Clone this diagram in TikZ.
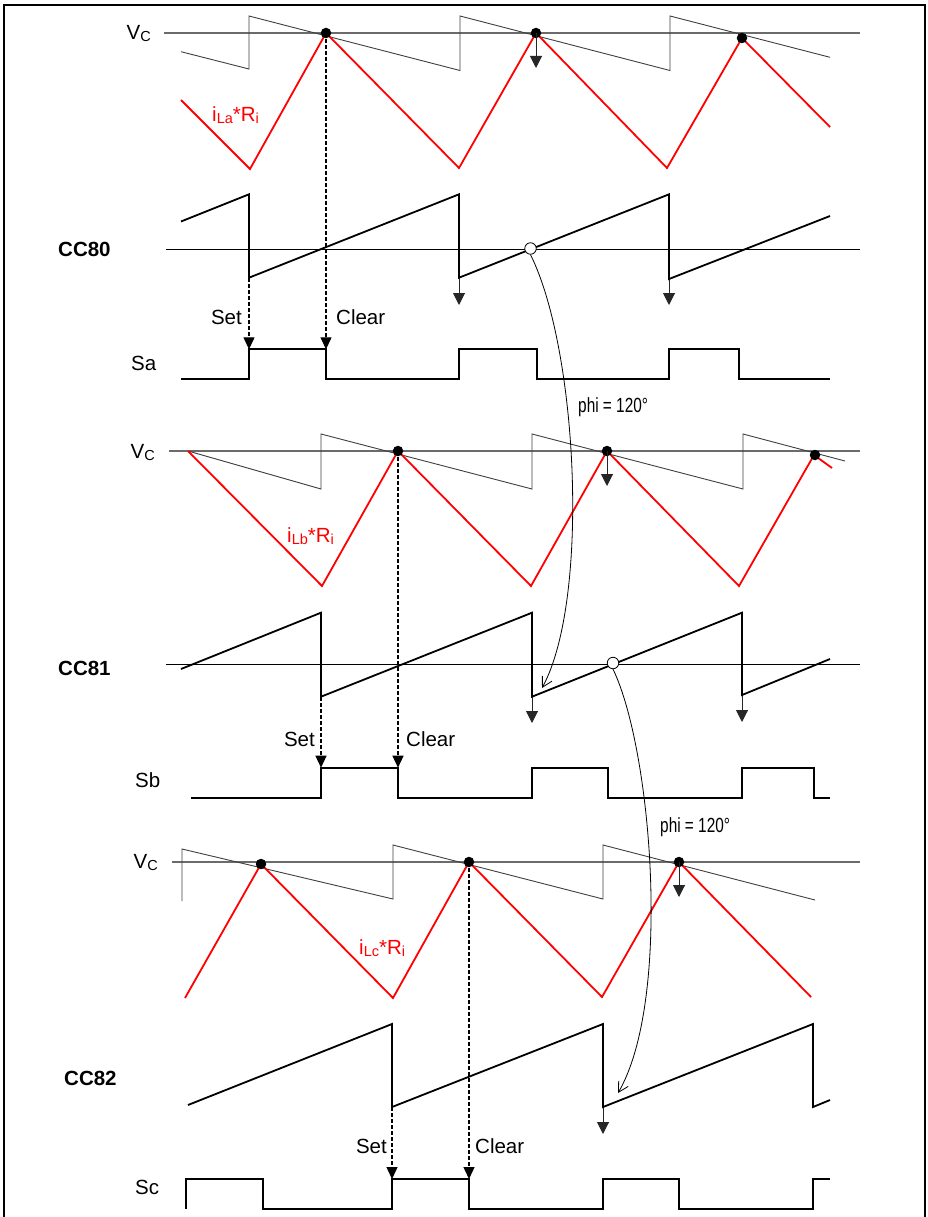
\documentclass[tikz,border=0pt]{standalone}
\usepackage{fontspec}
\setmainfont{Liberation Sans}
\newfontfamily\narrowfont[FakeStretch=0.75]{Liberation Sans}
\usetikzlibrary{arrows.meta}
\newcommand{\lsub}[1]{\raisebox{-2pt}{\fontsize{14.5}{15}\selectfont #1}}
\tikzset{
  wave/.style={line width=1.8pt, black, line join=miter},
  redwave/.style={line width=1.8pt, red},
  ramp/.style={line width=0.9pt, black!75},
  vcline/.style={line width=1.4pt, black!58},
  zeroline/.style={line width=1pt, black},
  tri/.style={-{Triangle[length=12pt,width=12pt]}, line width=1pt, black!85},
  dasharrow/.style={dash pattern=on 4pt off 2pt, line width=1.3pt, -{Triangle[length=12pt,width=11pt]}},
  phase/.style={line width=0.8pt, -{Straight Barb[length=10pt,width=11pt]}},
  dot/.style={circle, fill=black, inner sep=0pt, minimum size=10.5pt},
  hollow/.style={circle, draw=black, line width=0.8pt, fill=white, inner sep=0pt, minimum size=11.5pt},
  lbl/.style={inner sep=0pt, font=\fontsize{20.5}{24}\selectfont},
  cclbl/.style={inner sep=0pt, font=\fontsize{20.5}{24}\selectfont\bfseries},
  redlbl/.style={inner sep=0pt, text=red, font=\fontsize{20.5}{24}\selectfont},
  philbl/.style={inner sep=0pt, font=\fontsize{20.5}{24}\narrowfont},
}
\begin{document}
\begin{tikzpicture}[x=1pt,y=-1pt]
\useasboundingbox (0,0) rectangle (927,1217);
\fill[white] (0,0) rectangle (927,1217);
\draw[line width=1.3pt] (4,1217) -- (4,5) -- (925,5) -- (925,1217);

% ---------- coordinates ----------
\coordinate (setA) at (249,349.3);
\coordinate (clrA) at (326,349.3);
\coordinate (botA) at (249,277.7);
\coordinate (setB) at (321,767.7);
\coordinate (clrB) at (398,767.7);
\coordinate (botB) at (321,696.7);
\coordinate (setC) at (392,1179);
\coordinate (clrC) at (469,1179);
\coordinate (botC) at (392,1107);
\coordinate (tipB) at (542,688);
\coordinate (tipC) at (618,1093);

% ---------- dashed set / clear arrows ----------
\draw[dasharrow] (botA) -- (setA);
\draw[dasharrow] (326,33) -- (clrA);
\draw[dasharrow] (botB) -- (setB);
\draw[dasharrow] (398,451) -- (clrB);
\draw[dasharrow] (botC) -- (setC);
\draw[dasharrow] (469,862) -- (clrC);

% ================= Section A =================
\draw[vcline] (164,33) -- (860,33);
\draw[ramp] (181,51.7) -- (249,69) -- (249,16) -- (460,70.5) -- (460,16) -- (670,70.5) -- (670,16) -- (830,57.3);
\draw[redwave] (181,100) -- (250,169) -- (326,33) -- (459,168) -- (536,33) -- (667,168) -- (742,38) -- (830,127);
\node[dot] (pA1) at (326,33) {};
\node[dot] (pA2) at (536,33) {};
\node[dot] (pA3) at (742,38) {};
\draw[tri] (pA2.center) -- ++(0,35);
\node[lbl, anchor=base east] (vcA) at (151,39.3) {V\lsub{C}};
\node[redlbl, anchor=base west] (ilA) at (212,121.7) {i\lsub{La}*R\lsub{i}};

% CC80
\draw[zeroline] (166,249.3) -- (860,249.3);
\draw[tri] (459,277.7) -- (459,305);
\draw[tri] (669,279) -- (669,305);
\draw[wave] (181,221.5) -- (249,194.3) -- (249,277.7) -- (459,194.3) -- (459,277.7) -- (669,194.3) -- (669,279) -- (830,216);
\node[hollow] (hA) at (530.5,248.5) {};
\node[cclbl, anchor=base west] (cc80) at (58,256) {CC80};
\node[lbl, anchor=base east] (setlA) at (242,324) {Set};
\node[lbl, anchor=base west] (clrlA) at (336,324) {Clear};

% Sa
\draw[wave] (181,379.3) -- (249,379.3) -- (249,349.3) -- (326,349.3) -- (326,379.3) -- (459,379.3) -- (459,349.3) -- (537,349.3) -- (537,379.3) -- (669,379.3) -- (669,349.3) -- (739,349.3) -- (739,379.3) -- (830,379.3);
\node[lbl, anchor=base west] (sa) at (131,370.7) {Sa};

\node[philbl, anchor=base west] (phiA) at (578,412.3) {phi = 120°};

% ================= Section B =================
\draw[vcline] (169,451) -- (860,451);
\draw[ramp] (188,451) -- (321,489) -- (321,434) -- (532,489) -- (532,434) -- (743,489) -- (743,434) -- (845,461);
\draw[redwave] (188,451) -- (322,586) -- (398,451) -- (531,586) -- (607,451) -- (739,586) -- (814,455) -- (832,468);
\node[dot] (pB1) at (398,451) {};
\node[dot] (pB2) at (607,451) {};
\node[dot] (pB3) at (815,455) {};
\draw[tri] (pB2.center) -- ++(0,35);
\node[lbl, anchor=base east] (vcB) at (155,458.3) {V\lsub{C}};
\node[redlbl, anchor=base west] (ilB) at (287,542.7) {i\lsub{Lb}*R\lsub{i}};

% CC81
\draw[zeroline] (166,664.3) -- (860,664.3);
\draw[tri] (532,696.7) -- (532,723);
\draw[tri] (742,695) -- (742,722);
\draw[wave] (181,669) -- (321,612.7) -- (321,696.7) -- (532,612.7) -- (532,696.7) -- (742,612.7) -- (742,695) -- (830,659);
\node[hollow] (hB) at (613,663) {};
\node[cclbl, anchor=base west] (cc81) at (58,675) {CC81};
\node[lbl, anchor=base east] (setlB) at (315,746) {Set};
\node[lbl, anchor=base west] (clrlB) at (406,746) {Clear};

% Sb
\draw[wave] (191,797.7) -- (321,797.7) -- (321,767.7) -- (398,767.7) -- (398,797.7) -- (532,797.7) -- (532,767.7) -- (608,767.7) -- (608,797.7) -- (742,797.7) -- (742,767.7) -- (814,767.7) -- (814,797.7) -- (830,797.7);
\node[lbl, anchor=base west] (sb) at (135,787.7) {Sb};

\node[philbl, anchor=base west] (phiB) at (660,832.3) {phi = 120°};

% ================= Section C =================
\draw[vcline] (172,862) -- (860,862);
\draw[ramp] (182,901) -- (182,849) -- (393,899) -- (393,845) -- (603,899) -- (603,845) -- (815,900);
\draw[redwave] (185,998) -- (261,864) -- (393,998) -- (469,862) -- (602,997) -- (679,862) -- (811,997);
\node[dot] (pC1) at (261,864) {};
\node[dot] (pC2) at (469,862) {};
\node[dot] (pC3) at (679,862) {};
\draw[tri] (pC3.center) -- ++(0,35);
\node[lbl, anchor=base east] (vcC) at (158,868.3) {V\lsub{C}};
\node[redlbl, anchor=base west] (ilC) at (359,954) {i\lsub{Lc}*R\lsub{i}};

% CC82
\draw[tri] (603,1107) -- (603,1134);
\draw[wave] (188,1105) -- (392,1024) -- (392,1107) -- (603,1024) -- (603,1107) -- (813,1024) -- (813,1107) -- (830,1100);
\node[cclbl, anchor=base west] (cc82) at (64,1085) {CC82};
\node[lbl, anchor=base east] (setlC) at (387,1153.3) {Set};
\node[lbl, anchor=base west] (clrlC) at (475,1153.3) {Clear};

% Sc
\draw[wave] (186,1209) -- (186,1179) -- (263,1179) -- (263,1209) -- (392,1209) -- (392,1179) -- (469,1179) -- (469,1209) -- (603,1209) -- (603,1179) -- (679,1179) -- (679,1209) -- (813,1209) -- (813,1179) -- (830,1179);
\node[lbl, anchor=base west] (sc) at (135,1194.3) {Sc};

% ---------- phase shift arrows ----------
\draw[phase] (hA.south) .. controls (578,350) and (590,600) .. (tipB);
\draw[phase] (hB.south) .. controls (652,750) and (672,1000) .. (tipC);
\end{tikzpicture}
\end{document}
